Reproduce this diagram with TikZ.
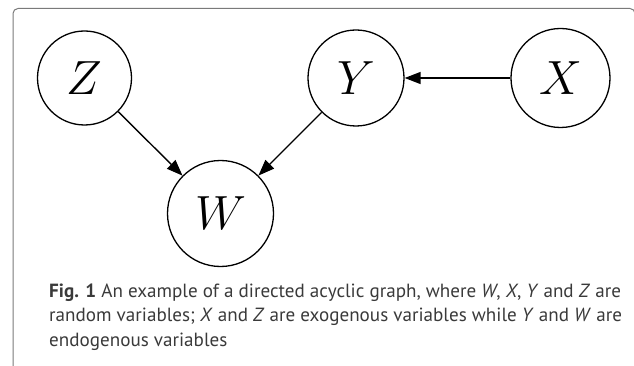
\RequirePackage{fix-cm}
\documentclass[tikz,border=0pt]{standalone}
\usepackage{fontspec}
\newfontfamily\capfont{PT Sans}
\usetikzlibrary{arrows.meta}
\definecolor{framegray}{HTML}{7A7A7A}
\definecolor{captext}{HTML}{3A3A3A}
\tikzset{
  var/.style={draw, circle, line width=1.3pt, inner sep=0pt, font=\fontsize{48}{48}\selectfont},
  link/.style={line width=1.4pt, -{Triangle[length=16pt,width=12pt]}, shorten >=0pt},
  capline/.style={anchor=base west, inner sep=0pt, text=captext, font=\capfont\fontsize{19.1}{22}\selectfont}
}
\begin{document}
\begin{tikzpicture}[x=1pt,y=-1pt]
\useasboundingbox (0,0) rectangle (634,366);
\begin{scope}
\clip (0,0) rectangle (634,366);
\draw[framegray, line width=1pt, rounded corners=5pt] (13,8.5) rectangle (635,420);
\end{scope}
\node[var, minimum size=94pt] (z) at (84.5,78) {$Z$};
\node[var, minimum size=96pt] (y) at (356,78) {$Y$};
\node[var, minimum size=99pt] (x) at (560.5,78) {$X$};
\node[var, minimum size=106pt] (w) at (220.5,213.5) {$W$};
\draw[link] (z) -- (w);
\draw[link] (y) -- (w);
\draw[link] (x) -- (y);
\node[capline] (c1) at (49,297) {\textbf{Fig. 1} An example of a directed acyclic graph, where \textit{W}, \textit{X}, \textit{Y} and \textit{Z} are};
\node[capline] (c2) at (49,321.5) {random variables; \textit{X} and \textit{Z} are exogenous variables while \textit{Y} and \textit{W} are};
\node[capline] (c3) at (49,346) {endogenous variables};
\end{tikzpicture}
\end{document}
